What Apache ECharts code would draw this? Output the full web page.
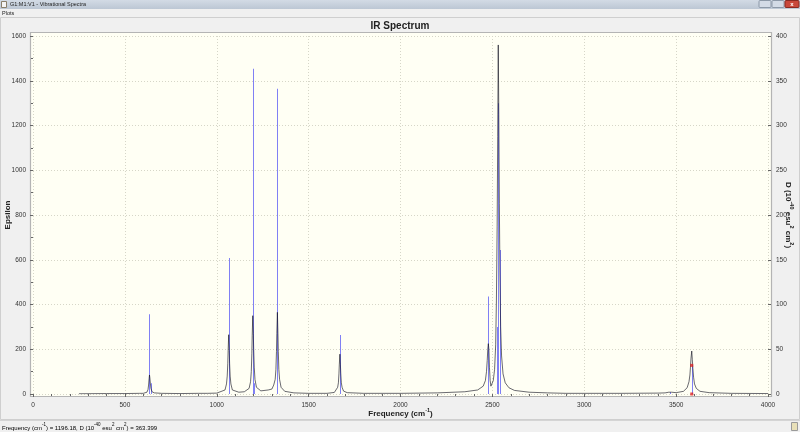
<!DOCTYPE html>
<html>
<head>
<meta charset="utf-8">
<script src="https://cdn.jsdelivr.net/npm/echarts@6/dist/echarts.min.js"></script>
<style>
html,body{margin:0;padding:0;background:#f0f0f0;}
#c{width:800px;height:432px;}
</style>
</head>
<body>
<div id="c"></div>
<script>
// ---- Data ----
// Broadened IR spectrum (Epsilon, left axis)
const specFreq = [250, 400, 500, 580, 600, 620, 626, 629, 632, 634, 636, 639, 642, 648, 660, 700, 800, 900, 950,
  1000, 1045, 1053, 1057, 1060, 1062, 1065, 1068, 1070, 1073, 1077, 1085, 1120, 1150, 1176, 1184, 1188, 1191, 1193,
  1196, 1199, 1201, 1204, 1208, 1216, 1240, 1280, 1300, 1310, 1318, 1322, 1325, 1327, 1330, 1333, 1335, 1338, 1342,
  1350, 1370, 1420, 1500, 1600, 1640, 1650, 1658, 1662, 1665, 1667, 1670, 1673, 1675, 1678, 1682, 1690, 1710, 1800,
  2000, 2200, 2350, 2420, 2450, 2462, 2468, 2472, 2475, 2478, 2481, 2484, 2488, 2492, 2498, 2505, 2512, 2518, 2522,
  2526, 2529, 2532, 2535, 2538, 2541, 2545, 2550, 2558, 2570, 2590, 2620, 2700, 2800, 2900, 3000, 3200, 3400, 3440,
  3460, 3467, 3475, 3500, 3540, 3560, 3570, 3575, 3578, 3581, 3585, 3588, 3591, 3595, 3600, 3610, 3630, 3680, 3800, 4000];
const specEps = [1, 2, 2, 3, 3, 8, 20, 40, 70, 85, 72, 45, 25, 10, 5, 3, 2, 3, 3,
  4, 18, 45, 80, 135, 195, 265, 195, 135, 80, 45, 18, 8, 10, 25, 55, 100, 180, 260,
  350, 270, 200, 120, 65, 30, 14, 18, 22, 40, 65, 110, 190, 270, 365, 270, 190, 110, 65,
  30, 12, 5, 3, 3, 7, 13, 30, 50, 90, 130, 178, 130, 90, 50, 30, 13, 6, 3,
  3, 5, 10, 18, 35, 60, 100, 150, 200, 225, 200, 120, 60, 35, 40, 60, 110, 220, 420,
  750, 1150, 1560, 1250, 850, 550, 300, 170, 90, 50, 28, 16, 8, 5, 3, 3, 3, 4, 5,
  8, 10, 8, 6, 12, 28, 55, 85, 120, 160, 192, 155, 115, 75, 45, 25, 12, 6, 3, 2];
// Stick intensities (D, right axis)
const stickFreq = [632, 641, 1065, 1196, 1203, 1330, 1670, 2478, 2523, 2532, 2541, 3467, 3585];
const stickD    = [89, 12, 152, 363.4, 12, 341, 66, 109, 75, 325, 161, 2, 32];
// Selected-mode markers
const markFreq = [3585, 3585];
const markD = [32, 0];
// Axis ranges / steps
const xMin = 0, xMax = 4000, xStep = 500;
const epsMin = 0, epsMax = 1600, epsStep = 200;
const dMin = 0, dMax = 400, dStep = 50;

const FONT = '"Liberation Sans", Arial, sans-serif';
const chart = echarts.init(document.getElementById('c'), null, {renderer: 'canvas'});

const specData = specFreq.map((f, i) => [f, specEps[i]]);
const stickData = stickFreq.map((f, i) => [f, stickD[i]]);
const markData = markFreq.map((f, i) => [f, markD[i]]);

const supRich = {
  b: {fontFamily: FONT, fontSize: 8, fontWeight: 'bold', color: '#222', verticalAlign: 'bottom', lineHeight: 11},
  s: {fontFamily: FONT, fontSize: 5.5, fontWeight: 'bold', color: '#222', verticalAlign: 'top', lineHeight: 11}
};
const stRich = {
  n: {fontFamily: FONT, fontSize: 6, color: '#333', verticalAlign: 'bottom', lineHeight: 9},
  s: {fontFamily: FONT, fontSize: 4.5, color: '#333', verticalAlign: 'top', lineHeight: 9}
};
const plain = v => String(v);

const option = {
  backgroundColor: '#f0f0f0',
  animation: false,
  title: {
    text: 'IR Spectrum', left: 'center', top: 16,
    textStyle: {fontFamily: FONT, fontSize: 10, fontWeight: 'bold', color: '#222'}
  },
  grid: {left: 33, right: 32, top: 36, bottom: 38, containLabel: false, outerBoundsMode: 'none'},
  xAxis: {
    type: 'value', min: xMin, max: xMax, interval: xStep,
    name: '{b|Frequency (cm}{s|-1}{b|)}', nameLocation: 'middle', nameGap: 13, nameMoveOverlap: false,
    nameTextStyle: {rich: supRich},
    axisLine: {show: false},
    axisTick: {show: true, length: 3, inside: false, lineStyle: {color: '#666'}},
    minorTick: {show: true, splitNumber: 5, length: 2, lineStyle: {color: '#666'}},
    axisLabel: {fontFamily: FONT, fontSize: 6.5, color: '#333', margin: 8, formatter: plain},
    splitLine: {show: true, lineStyle: {color: '#d6d6c8', type: [1, 2], width: 1}}
  },
  yAxis: [{
    type: 'value', min: epsMin, max: epsMax, interval: epsStep, position: 'left',
    name: 'Epsilon', nameLocation: 'middle', nameGap: 21, nameMoveOverlap: false,
    nameTextStyle: {fontFamily: FONT, fontSize: 8, fontWeight: 'bold', color: '#222'},
    axisLine: {show: false},
    axisTick: {show: true, length: 3, lineStyle: {color: '#666'}},
    minorTick: {show: true, splitNumber: 2, length: 2, lineStyle: {color: '#666'}},
    axisLabel: {fontFamily: FONT, fontSize: 6.5, color: '#333', margin: 7, formatter: plain},
    splitLine: {show: true, lineStyle: {color: '#d6d6c8', type: [1, 2], width: 1}}
  }, {
    type: 'value', min: dMin, max: dMax, interval: dStep, position: 'right',
    name: '{b|D (10}{s|-40}{b| esu}{s|2}{b| cm}{s|2}{b|)}', nameLocation: 'middle', nameGap: 16, nameRotate: -90,
    nameMoveOverlap: false,
    nameTextStyle: {rich: supRich},
    axisLine: {show: false},
    axisTick: {show: true, length: 3, lineStyle: {color: '#666'}},
    axisLabel: {fontFamily: FONT, fontSize: 6.5, color: '#333', margin: 8, formatter: plain},
    splitLine: {show: false}
  }],
  graphic: [
    // title bar
    {type: 'rect', z: -10, shape: {x: 0, y: 0, width: 800, height: 9},
     style: {fill: new echarts.graphic.LinearGradient(0, 0, 0, 1, [{offset: 0, color: '#d3dbe5'}, {offset: 1, color: '#bcc7d4'}])}},
    {type: 'rect', z: -9, shape: {x: 1.5, y: 1.5, width: 5, height: 6}, style: {fill: '#f4f4f4', stroke: '#8a7f6a', lineWidth: 1}},
    {type: 'text', z: -9, style: {x: 10, y: 4.5, text: 'G1:M1:V1 - Vibrational Spectra', fontFamily: FONT, fontSize: 5.5, fill: '#222', verticalAlign: 'middle'}},
    {type: 'rect', z: -9, shape: {x: 759, y: 0.5, width: 12, height: 7, r: 1}, style: {fill: '#d3dbe6', stroke: '#8d99a8', lineWidth: 1}},
    {type: 'rect', z: -9, shape: {x: 772, y: 0.5, width: 12, height: 7, r: 1}, style: {fill: '#d3dbe6', stroke: '#8d99a8', lineWidth: 1}},
    {type: 'rect', z: -9, shape: {x: 785, y: 0.5, width: 14, height: 7, r: 1}, style: {fill: '#c9483b', stroke: '#8a2a22', lineWidth: 1}},
    {type: 'text', z: -8, style: {x: 792, y: 4, text: 'x', fontFamily: FONT, fontSize: 6, fontWeight: 'bold', fill: '#fff', align: 'center', verticalAlign: 'middle'}},
    // menu
    {type: 'text', z: -9, style: {x: 2, y: 13, text: 'Plots', fontFamily: FONT, fontSize: 5.5, fill: '#222', verticalAlign: 'middle'}},
    // panel
    {type: 'rect', z: -10, shape: {x: 0.5, y: 17.5, width: 799, height: 402}, style: {fill: '#f0f0f0', stroke: '#cfcfcf', lineWidth: 1}},
    // plot frame / background
    {type: 'rect', z: -5, shape: {x: 30.5, y: 32.5, width: 741, height: 364}, style: {fill: '#fffff4', stroke: '#b4b4b4', lineWidth: 1.2}},
    // status bar
    {type: 'rect', z: -10, shape: {x: 0, y: 421, width: 800, height: 11}, style: {fill: '#f0f0f0'}},
    {type: 'line', z: -9, shape: {x1: 0, y1: 420.5, x2: 800, y2: 420.5}, style: {stroke: '#d4d4d4', lineWidth: 1}},
    {type: 'text', z: -9, style: {x: 2, y: 427, verticalAlign: 'middle',
      text: '{n|Frequency (cm}{s|-1}{n|) = 1196.18, D (10}{s|-40}{n| esu}{s|2}{n| cm}{s|2}{n|) = 363.399}', rich: stRich}},
    {type: 'rect', z: -9, shape: {x: 791.5, y: 422.5, width: 6, height: 8}, style: {fill: '#e8e0b8', stroke: '#9a9a9a', lineWidth: 1}}
  ],
  series: [{
    type: 'custom', name: 'sticks', xAxisIndex: 0, yAxisIndex: 1, z: 3,
    data: stickData,
    renderItem: function (params, api) {
      const p0 = api.coord([api.value(0), 0]);
      const p1 = api.coord([api.value(0), api.value(1)]);
      const x = Math.round(p0[0]);
      return {type: 'rect', shape: {x: x, y: p1[1], width: 1, height: p0[1] - p1[1]},
              style: {fill: '#8080f4', stroke: null}};
    }
  }, {
    type: 'line', name: 'spectrum', xAxisIndex: 0, yAxisIndex: 0, z: 4,
    data: specData, showSymbol: false, symbol: 'none', smooth: false,
    lineStyle: {color: 'rgba(15,15,30,0.62)', width: 1}
  }, {
    type: 'scatter', name: 'selected', xAxisIndex: 0, yAxisIndex: 1, z: 5,
    data: markData, symbol: 'rect', symbolSize: 3,
    itemStyle: {color: '#e02020'}
  }]
};
chart.setOption(option);
</script>
</body>
</html>
